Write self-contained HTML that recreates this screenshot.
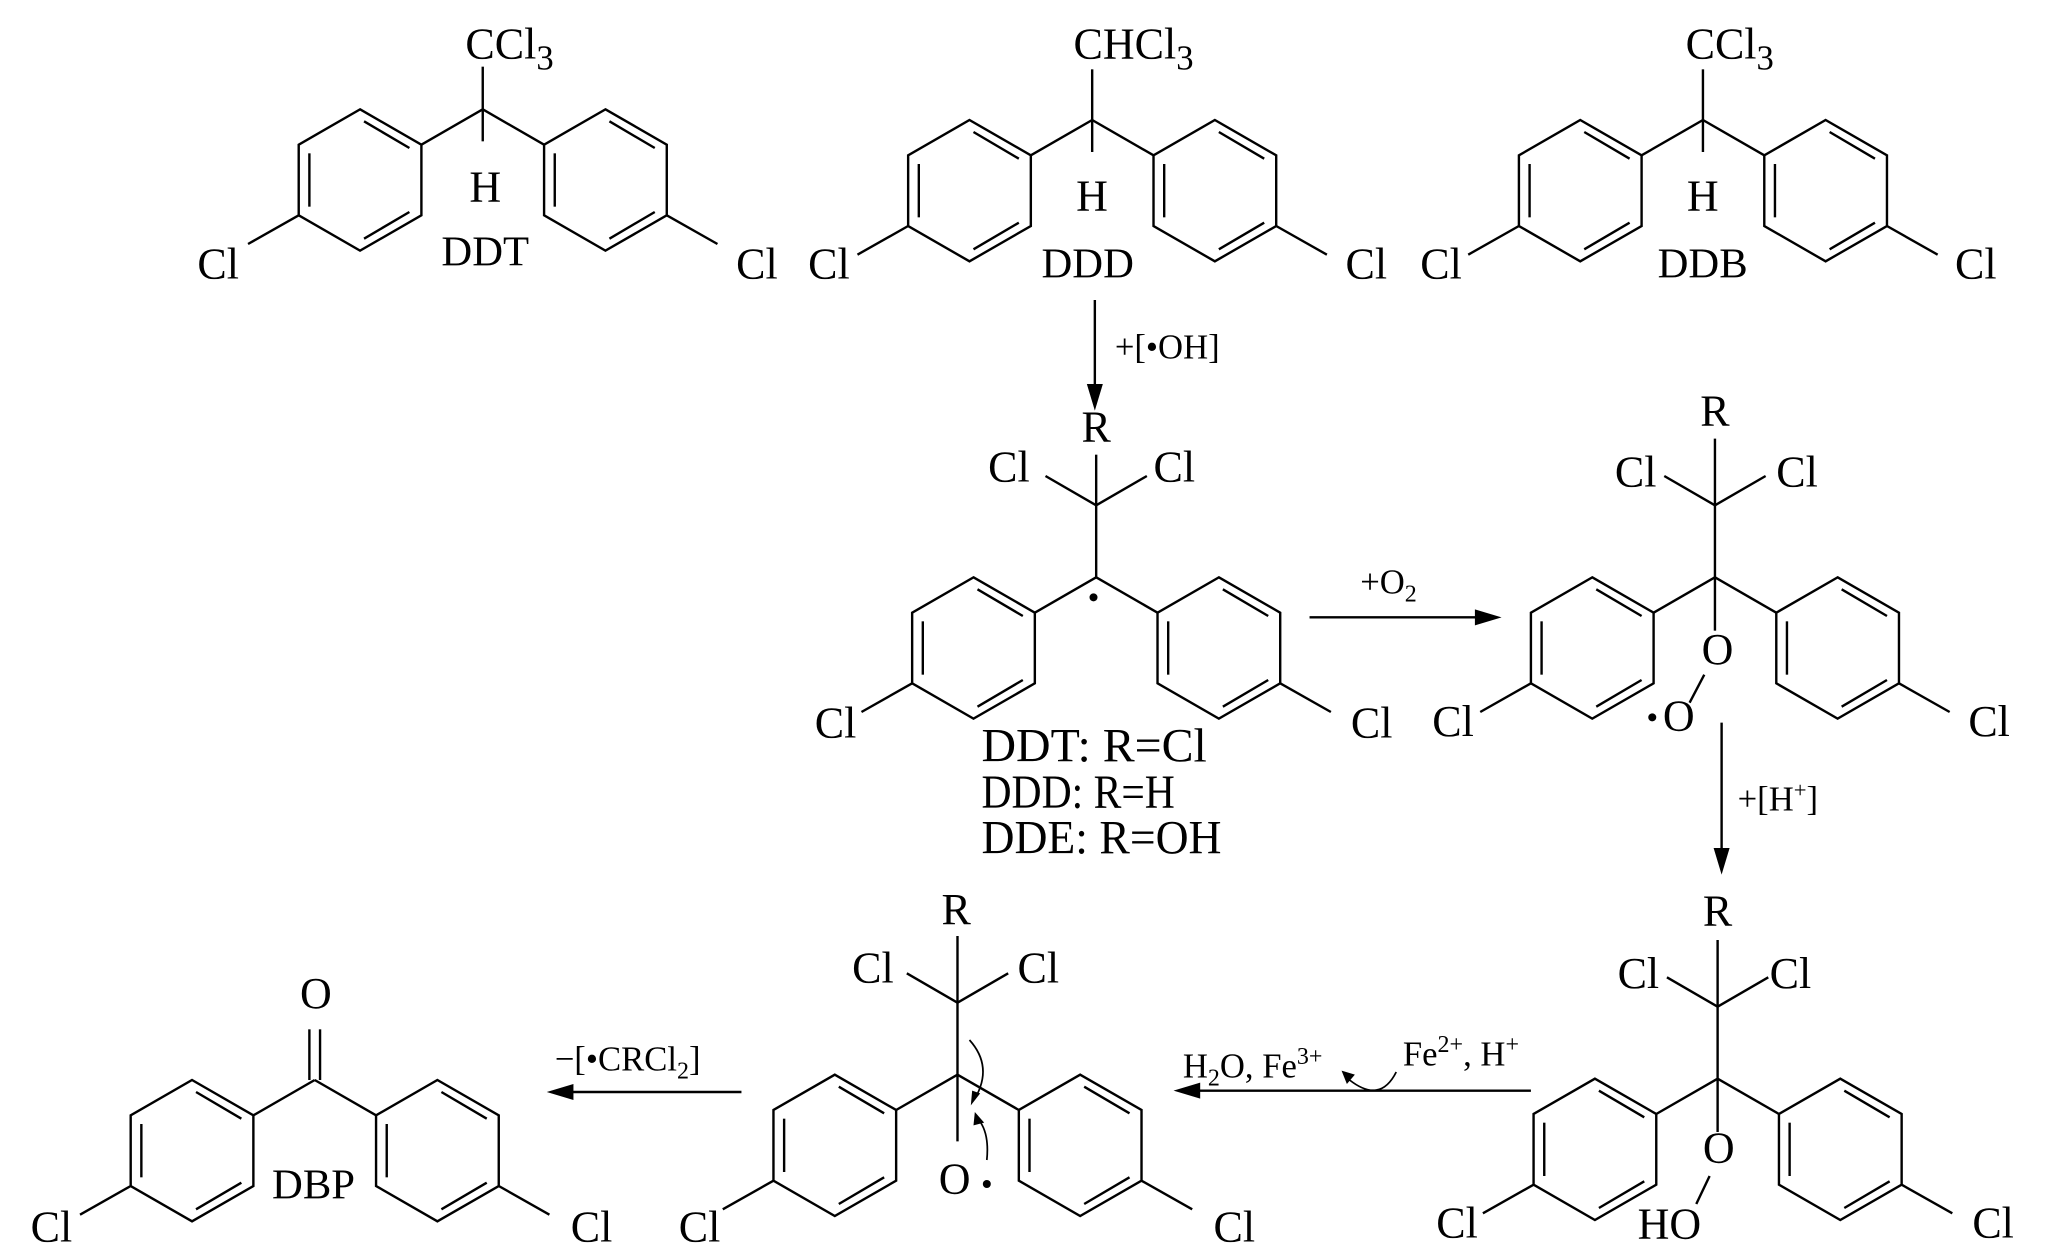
<!DOCTYPE html>
<html><head><meta charset="utf-8"><style>
html,body{margin:0;padding:0;background:#fff;}
svg{display:block;}
text{font-family:"Liberation Serif",serif;font-size:33px;fill:#000;}
.l{font-size:32px;}
.sm{font-size:26px;}
.lab{font-size:36px;}
</style></head><body>
<svg width="2067" height="1260" viewBox="0 0 1550 945" preserveAspectRatio="none" xmlns="http://www.w3.org/2000/svg">
<defs>
<g id="ring" fill="none" stroke="#000" stroke-width="1.8">
<polygon points="0,-53 46,-26.5 46,26.5 0,53 -46,26.5 -46,-26.5"/>
<line x1="3" y1="-44" x2="37" y2="-24"/>
<line x1="-38" y1="-20" x2="-38" y2="20"/>
<line x1="37" y1="24" x2="3" y2="44"/>
</g>
<g id="ringL"><use href="#ring"/><line x1="-46" y1="26.5" x2="-84" y2="48" stroke="#000" stroke-width="1.8"/></g>
<g id="ringR"><use href="#ring"/><line x1="46" y1="26.5" x2="84" y2="48" stroke="#000" stroke-width="1.8"/></g>
<g id="core" stroke="#000" stroke-width="1.8" fill="none">
<line x1="0" y1="0" x2="-46" y2="26.5"/><line x1="0" y1="0" x2="46" y2="26.5"/>
<use href="#ringL" x="-92" y="53"/><use href="#ringR" x="92" y="53"/>
</g>
<g id="ccl2" stroke="#000" stroke-width="1.8" fill="none">
<line x1="0" y1="0" x2="0" y2="-54"/>
<line x1="0" y1="-54" x2="-38" y2="-76"/>
<line x1="0" y1="-54" x2="38" y2="-76"/>
</g>
</defs>

<!-- DDT -->
<g transform="translate(362,82)"><use href="#core"/>
<line x1="0" y1="0" x2="0" y2="-32" stroke="#000" stroke-width="1.8"/>
<line x1="0" y1="0" x2="0" y2="24" stroke="#000" stroke-width="1.8"/></g>
<text x="349" y="44">CCl<tspan class="sm" dy="8">3</tspan></text>
<text x="352" y="151">H</text>
<text x="148" y="209">Cl</text>
<text x="552" y="209">Cl</text>
<text class="l" x="331" y="199">DDT</text>

<!-- DDD -->
<g transform="translate(819,90)"><use href="#core"/>
<line x1="0" y1="0" x2="0" y2="-38" stroke="#000" stroke-width="1.8"/>
<line x1="0" y1="0" x2="0" y2="24" stroke="#000" stroke-width="1.8"/></g>
<text x="805" y="44">CHCl<tspan class="sm" dy="8">3</tspan></text>
<text x="807" y="158">H</text>
<text x="606" y="209">Cl</text>
<text x="1009" y="209">Cl</text>
<text class="l" x="781" y="208">DDD</text>

<!-- DDB -->
<g transform="translate(1277,90)"><use href="#core"/>
<line x1="0" y1="0" x2="0" y2="-38" stroke="#000" stroke-width="1.8"/>
<line x1="0" y1="0" x2="0" y2="24" stroke="#000" stroke-width="1.8"/></g>
<text x="1264" y="44">CCl<tspan class="sm" dy="8">3</tspan></text>
<text x="1265" y="158">H</text>
<text x="1065" y="209">Cl</text>
<text x="1466" y="209">Cl</text>
<text class="l" x="1243" y="208">DDB</text>

<!-- arrow 1 -->
<line x1="821" y1="225" x2="821" y2="292" stroke="#000" stroke-width="1.8"/>
<polygon points="815,288 827,288 821,308" fill="#000"/>
<text class="sm" x="836" y="269">+[•OH]</text>

<!-- radical -->
<g transform="translate(822,433)"><use href="#core"/><use href="#ccl2"/>
<line x1="0" y1="-54" x2="0" y2="-92" stroke="#000" stroke-width="1.8"/></g>
<circle cx="820" cy="448" r="3" fill="#000"/>
<text x="811" y="331">R</text>
<text x="741" y="361">Cl</text>
<text x="865" y="361">Cl</text>
<text x="611" y="553">Cl</text>
<text x="1013" y="553">Cl</text>
<text class="lab" x="736" y="571" textLength="169" lengthAdjust="spacingAndGlyphs">DDT: R=Cl</text>
<text class="lab" x="736" y="606" textLength="145" lengthAdjust="spacingAndGlyphs">DDD: R=H</text>
<text class="lab" x="736" y="640" textLength="180" lengthAdjust="spacingAndGlyphs">DDE: R=OH</text>

<!-- arrow 2 -->
<line x1="982" y1="463" x2="1110" y2="463" stroke="#000" stroke-width="1.8"/>
<polygon points="1106,457 1106,469 1126,463" fill="#000"/>
<text class="sm" x="1020" y="445">+O<tspan font-size="18" dy="6">2</tspan></text>

<!-- peroxy radical -->
<g transform="translate(1286,433)"><use href="#core"/><use href="#ccl2"/>
<line x1="0" y1="-54" x2="0" y2="-104" stroke="#000" stroke-width="1.8"/>
<line x1="0" y1="0" x2="0" y2="40" stroke="#000" stroke-width="1.8"/>
<line x1="-8" y1="73" x2="-19" y2="94" stroke="#000" stroke-width="1.8"/></g>
<text x="1276" y="498">O</text>
<circle cx="1239" cy="538" r="3" fill="#000"/>
<text x="1247" y="548">O</text>
<text x="1275" y="319">R</text>
<text x="1211" y="365">Cl</text>
<text x="1332" y="365">Cl</text>
<text x="1074" y="552">Cl</text>
<text x="1476" y="552">Cl</text>

<!-- arrow 3 -->
<line x1="1291" y1="542" x2="1291" y2="640" stroke="#000" stroke-width="1.8"/>
<polygon points="1285,636 1297,636 1291,656" fill="#000"/>
<text class="sm" x="1303" y="608">+[H<tspan font-size="17" dy="-10">+</tspan><tspan dy="10">]</tspan></text>

<!-- hydroperoxide -->
<g transform="translate(1288,809)"><use href="#core"/><use href="#ccl2"/>
<line x1="0" y1="-54" x2="0" y2="-104" stroke="#000" stroke-width="1.8"/>
<line x1="0" y1="0" x2="0" y2="40" stroke="#000" stroke-width="1.8"/>
<line x1="-6" y1="73" x2="-16" y2="94" stroke="#000" stroke-width="1.8"/></g>
<text x="1277" y="872">O</text>
<text x="1228" y="929">HO</text>
<text x="1277" y="694">R</text>
<text x="1213" y="741">Cl</text>
<text x="1327" y="741">Cl</text>
<text x="1077" y="928">Cl</text>
<text x="1479" y="928">Cl</text>

<!-- arrow 4 -->
<line x1="1148" y1="818" x2="896" y2="818" stroke="#000" stroke-width="1.8"/>
<polygon points="900,812 900,824 880,818" fill="#000"/>
<text class="sm" x="887" y="808">H<tspan font-size="18" dy="6">2</tspan><tspan dy="-6">O, Fe</tspan><tspan font-size="18" dy="-10">3+</tspan></text>
<text class="sm" x="1052" y="799">Fe<tspan font-size="18" dy="-10">2+</tspan><tspan dy="10">, H</tspan><tspan font-size="18" dy="-10">+</tspan></text>
<path d="M1047,804 Q1035,828 1012,810" fill="none" stroke="#000" stroke-width="1.3"/>
<polygon points="1006,803 1016,806 1010,813" fill="#000"/>

<!-- alkoxy radical -->
<g transform="translate(718,806)"><use href="#core"/><use href="#ccl2"/>
<line x1="0" y1="-54" x2="0" y2="-104" stroke="#000" stroke-width="1.8"/>
<line x1="0" y1="0" x2="0" y2="50" stroke="#000" stroke-width="1.8"/></g>
<text x="704" y="895">O</text>
<circle cx="740" cy="888" r="3" fill="#000"/>
<path d="M727,780 Q745,800 731,824" fill="none" stroke="#000" stroke-width="1.3"/>
<polygon points="728,829 735,820 729,818" fill="#000"/>
<path d="M740,870 Q742,850 734,840" fill="none" stroke="#000" stroke-width="1.3"/>
<polygon points="731,834 738,842 730,844" fill="#000"/>
<text x="706" y="693">R</text>
<text x="639" y="737">Cl</text>
<text x="763" y="737">Cl</text>
<text x="509" y="931">Cl</text>
<text x="910" y="931">Cl</text>

<!-- arrow 5 -->
<line x1="556" y1="819" x2="426" y2="819" stroke="#000" stroke-width="1.8"/>
<polygon points="430,813 430,825 410,819" fill="#000"/>
<text class="sm" x="416" y="803">−[•CRCl<tspan font-size="18" dy="6">2</tspan><tspan dy="-6">]</tspan></text>

<!-- DBP -->
<g transform="translate(236,810)"><use href="#core"/>
<line x1="-4" y1="0" x2="-4" y2="-38" stroke="#000" stroke-width="1.8"/>
<line x1="4" y1="0" x2="4" y2="-38" stroke="#000" stroke-width="1.8"/></g>
<text x="225" y="756">O</text>
<text class="l" x="204" y="899">DBP</text>
<text x="23" y="931">Cl</text>
<text x="428" y="931">Cl</text>
</svg>
</body></html>
